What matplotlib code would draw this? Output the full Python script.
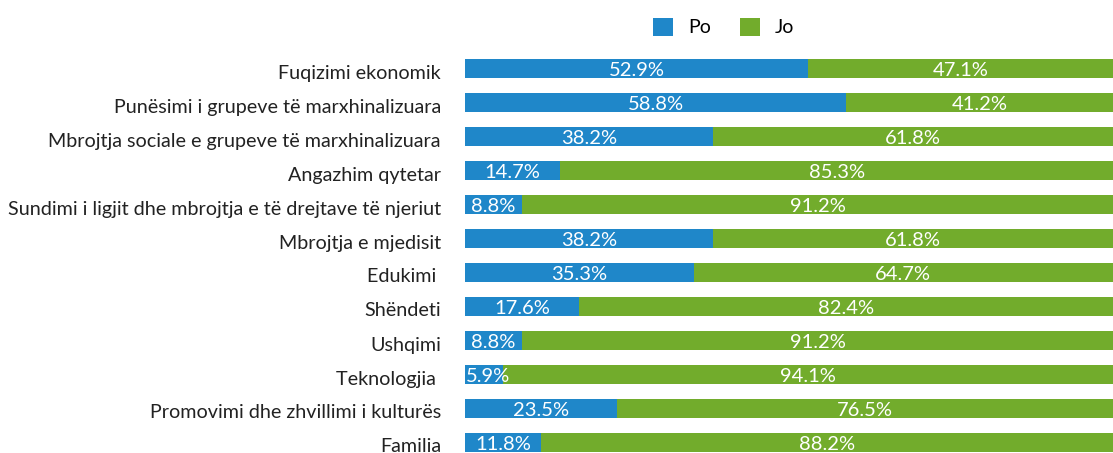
import matplotlib
matplotlib.use("Agg")
import matplotlib.pyplot as plt
from matplotlib.patches import Rectangle
from matplotlib.transforms import ScaledTranslation
import numpy as np

categories = [
    "Fuqizimi ekonomik",
    "Punësimi i grupeve të marxhinalizuara",
    "Mbrojtja sociale e grupeve të marxhinalizuara",
    "Angazhim qytetar",
    "Sundimi i ligjit dhe mbrojtja e të drejtave të njeriut",
    "Mbrojtja e mjedisit",
    "Edukimi ",
    "Shëndeti",
    "Ushqimi",
    "Teknologjia ",
    "Promovimi dhe zhvillimi i kulturës",
    "Familia",
]
po = [52.9, 58.8, 38.2, 14.7, 8.8, 38.2, 35.3, 17.6, 8.8, 5.9, 23.5, 11.8]
jo = [47.1, 41.2, 61.8, 85.3, 91.2, 61.8, 64.7, 82.4, 91.2, 94.1, 76.5, 88.2]
series_names = ["Po", "Jo"]

BLUE = "#1F87C9"
GREEN = "#72AC2C"

plt.rcParams['font.family'] = ['Lato', 'DejaVu Sans']

W, H = 1113, 453
fig = plt.figure(figsize=(W / 100, H / 100), dpi=100)
ax_left = 465 / W
ax_w = 648 / W
top_px = 51.5
ax = fig.add_axes([ax_left, 0, ax_w, (H - top_px) / H])

y = np.arange(len(categories))
bh = 19 / 34
ax.barh(y, po, height=bh, color=BLUE, label=series_names[0])
ax.barh(y, jo, left=po, height=bh, color=GREEN, label=series_names[1])

for i in range(len(categories)):
    band = Rectangle((-10, y[i] - bh / 2), 120, bh, transform=ax.transData,
                     visible=False)
    ax.add_patch(band)
    x1 = max(po[i] / 2, 3.6)
    t1 = ax.text(x1, y[i] + 0.07, f"{po[i]}%", ha="center", va="center",
                 color="white", fontsize=14.5)
    t1.set_clip_path(band)
    t2 = ax.text(po[i] + jo[i] / 2, y[i] + 0.07, f"{jo[i]}%", ha="center", va="center",
                 color="white", fontsize=14.5)
    t2.set_clip_path(band)

ax.set_xlim(0, 100)
ax.set_ylim(11 + (H - 442.5) / 34, -0.5)
ax.set_yticks(y)
ax.set_yticklabels(categories, fontsize=14.2, color="#222222")
ax.tick_params(axis="y", length=0, pad=17.3)
shift = ScaledTranslation(0, -3 / 100, fig.dpi_scale_trans)
for lab in ax.get_yticklabels():
    lab.set_transform(lab.get_transform() + shift)
ax.set_xticks([])
for s in ax.spines.values():
    s.set_visible(False)

handles, labels = ax.get_legend_handles_labels()
fig.legend(handles, labels, loc="center left", bbox_to_anchor=(653 / W, 1 - 27 / H),
           ncol=2, frameon=False, fontsize=14, handlelength=1.03, handleheight=1.03,
           columnspacing=1.5, handletextpad=0.77, borderpad=0, borderaxespad=0)

fig.savefig("out.png", dpi=100)
